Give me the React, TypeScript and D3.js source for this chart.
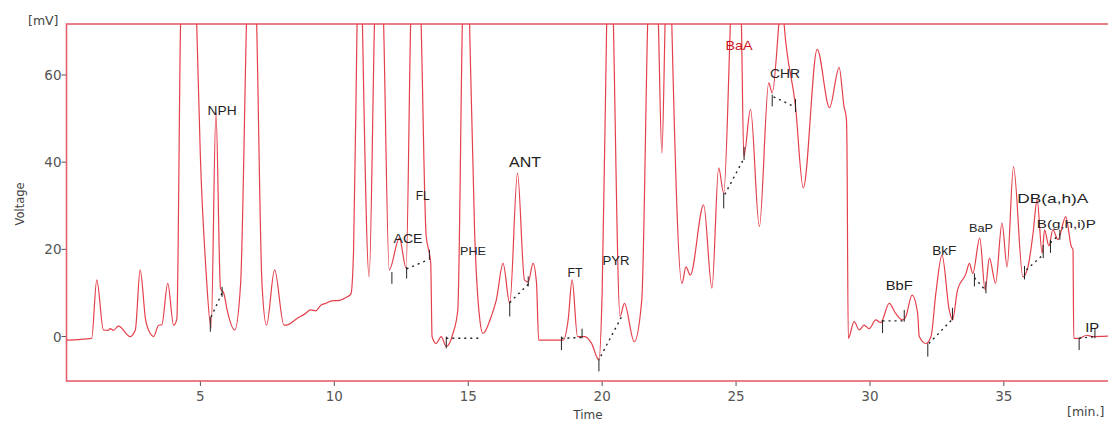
import * as d3 from "d3";

const W = 1108;
const H = 423;
const FRAME = { left: 66.5, top: 24, bottom: 381 };

// chromatogram trace: [time (min), voltage (mV)]
const trace: [number, number][] = [
  [0, -0.8], [0.94, -0.4], [1.13, 13.0], [1.38, 1.5], [1.55, 1.4], [1.63, 1.8], [1.75, 1.4],
  [1.94, 2.4], [2.38, 0], [2.57, 1.5], [2.75, 15.3], [2.95, 4], [3.13, 0.7], [3.25, 0],
  [3.44, 2.6], [3.56, 2.7], [3.78, 12.2], [4.0, 2.6], [4.12, 4], [4.26, 72], [4.56, 115],
  [4.86, 72], [5.0, 41], [5.2, 16], [5.4, 2], [5.58, 51.5], [5.75, 11], [5.87, 10],
  [6.0, 6], [6.28, 1.5], [6.5, 12], [6.72, 72], [6.9, 115], [7.1, 72], [7.3, 12],
  [7.47, 2.6], [7.77, 15.3], [8.12, 2.6], [8.3, 2.8], [8.62, 4.2], [8.9, 5.2], [9.12, 6.1],
  [9.3, 5.9], [9.5, 7.2], [9.68, 7.6], [9.9, 8.2], [10.2, 8.3], [10.45, 9.0], [10.62, 9.8],
  [10.72, 20], [10.85, 72], [10.95, 110], [11.05, 72], [11.3, 13.7],
  [11.5, 72], [11.67, 110], [11.84, 72], [12.05, 15.3], [12.43, 22.6], [12.68, 15.7],
  [12.85, 72], [13.05, 110], [13.24, 72], [13.43, 23], [13.55, 19.1], [13.6, 16.8],
  [13.65, 0], [13.8, -1.6], [13.99, 0], [14.18, -2.3], [14.43, 0.7], [14.61, 6.1],
  [14.78, 72], [14.92, 110], [15.05, 72], [15.24, 23.7], [15.42, 4.6], [15.55, 0.7],
  [15.86, 4.6], [16.05, 8.4], [16.3, 16.8], [16.55, 7.6], [16.84, 37.5], [17.1, 13],
  [17.24, 12.5], [17.42, 16.8], [17.55, 12.2], [17.63, -0.8], [18.55, -0.8], [18.73, 3.8],
  [18.88, 13], [19.08, 0], [19.36, 0], [19.6, -1.5], [19.88, -5.4], [20.0, 10], [20.17, 72],
  [20.3, 110], [20.42, 72], [20.67, 4.6], [20.83, 7.6], [21.2, -1.2], [21.48, 8.4],
  [21.7, 72], [21.9, 110], [22.1, 72], [22.23, 42.1], [22.35, 72], [22.47, 110], [22.6, 72],
  [22.98, 12.2], [23.13, 16], [23.29, 14.1], [23.79, 30.2], [24.1, 11.1], [24.35, 38.7],
  [24.54, 32.9], [24.79, 72], [25.0, 110], [25.2, 72], [25.29, 41.3], [25.54, 52.1],
  [25.87, 25.2], [26.22, 58.2], [26.35, 55.9], [26.6, 72], [26.7, 80], [26.79, 72],
  [27.22, 52.8], [27.51, 34.1], [28.03, 65.9], [28.49, 52.5], [28.85, 61.7], [29.03, 52.8],
  [29.12, 50], [29.14, 44.4], [29.19, -0.4], [29.41, 3.4], [29.6, 1.5], [29.78, 2.6],
  [29.97, 1.8], [30.22, 3.8], [30.4, 3.2], [30.72, 7.6], [30.96, 5.3], [31.22, 3.8],
  [31.34, 4.6], [31.57, 9.5], [31.78, 5.3], [31.84, 0], [32.09, -1.6], [32.28, 0],
  [32.46, 9.9], [32.69, 18.7], [32.96, 6.1], [33.08, 3.8], [33.27, 10.7], [33.59, 14.5],
  [33.71, 16.8], [33.84, 14.5], [34.1, 22.6], [34.3, 10.7], [34.46, 18], [34.69, 12.2],
  [34.93, 26], [35.12, 16], [35.36, 39], [35.71, 13.7], [35.9, 16], [36.09, 23.7],
  [36.24, 31.4], [36.43, 19.1], [36.52, 24.5], [36.68, 20.8], [36.83, 24.5], [37.02, 22.2],
  [37.31, 27.5], [37.52, 20.6], [37.58, 20], [37.61, -0.4], [37.8, -0.4], [38.1, 0.3],
  [38.3, 0], [39.0, 0.1],
];

// integration markers: [time, low, high]
const markers: [number, number, number][] = [
  [5.37, 1.1, 4.5], [5.81, 9.1, 11.4],
  [12.15, 12.1, 14.8], [12.7, 13.3, 16.0], [13.55, 17.6, 19.9],
  [14.18, -2.7, 0],
  [16.55, 4.6, 8.0], [17.24, 11.5, 13.8],
  [18.48, -3.1, 0], [19.25, -0.4, 1.8],
  [19.88, -8.0, -5.0],
  [24.54, 29.4, 32.9], [25.3, 40.5, 43.5],
  [26.35, 52.8, 55.5], [27.22, 51.5, 54.5],
  [30.47, 0.8, 3.8], [31.28, 3.4, 6.1],
  [32.16, -4.6, -1.6], [33.08, 3.8, 6.6],
  [33.9, 11.5, 14.5], [34.33, 9.9, 12.6],
  [35.77, 13.1, 16.2], [36.47, 18.0, 21],
  [36.74, 19.2, 22.2], [37.09, 22.2, 24.5],
  [37.81, -3.1, -0.4], [38.4, -0.4, 2.0],
];

// dotted baselines: [t1, v1, t2, v2]
const baselines: [number, number, number, number][] = [
  [5.4, 4.5, 5.81, 10], [12.7, 15.5, 13.5, 17.6], [14.18, -0.4, 15.5, -0.4],
  [16.55, 7.8, 17.24, 12], [18.48, -0.4, 19.25, -0.2], [19.95, -4.5, 20.73, 4.6],
  [24.58, 32.6, 25.29, 40.8], [26.4, 55.0, 27.22, 52.6], [30.47, 3.6, 31.28, 3.6],
  [32.2, -1.6, 33.08, 4.0], [33.9, 13.5, 34.33, 10.5], [35.84, 15.3, 36.47, 18.8],
  [36.74, 21.5, 37.09, 23.5], [37.81, -0.4, 38.4, 0],
];

const peakNames = ["NPH", "FL", "ACE", "PHE", "ANT", "FT", "PYR", "BaA", "CHR", "BbF", "BkF", "BaP", "DB(a,h)A", "B(g,h,i)P", "IP"];
const peakTimes = [5.81, 13.3, 12.75, 15.18, 17.12, 18.99, 20.52, 25.11, 26.83, 31.09, 32.77, 34.15, 36.83, 37.33, 38.3];
const peakLevels = [50.8, 31.3, 21.4, 18.7, 38.9, 13.6, 16.4, 65.7, 59.3, 10.7, 18.7, 24, 30.6, 24.9, 1.0];

// label styling (px): font size and drawn width
const labelSize: Record<string, number> = { ANT: 14, "DB(a,h)A": 13, "B(g,h,i)P": 11, BaP: 11, PHE: 11.5 };
const labelWidth: Record<string, number> = {
  NPH: 29, FL: 14, ACE: 29, PHE: 26, ANT: 32, FT: 15, PYR: 27, BaA: 27, CHR: 30,
  BbF: 27, BkF: 24, BaP: 24, "DB(a,h)A": 71, "B(g,h,i)P": 59, IP: 14,
};

const xTicks = [5, 10, 15, 20, 25, 30, 35];
const yTicks = [0, 20, 40, 60];

const x = d3.scaleLinear().domain([0, 39]).range([FRAME.left, 1111]);
const y = d3.scaleLinear().domain([-10.2, 71.7]).range([FRAME.bottom, FRAME.top]);

const App = () => {
  const line = d3
    .line<[number, number]>()
    .x((d) => x(d[0]))
    .y((d) => y(d[1]))
    .curve(d3.curveMonotoneX);

  return (
    <svg
      width={W}
      height={H}
      style={{ position: "absolute", left: 0, top: 0, background: "#fff" }}
      fontFamily="Liberation Sans, Arial, sans-serif"
    >
      <defs>
        <clipPath id="plot-clip">
          <rect x={FRAME.left} y={FRAME.top} width={W - FRAME.left} height={FRAME.bottom - FRAME.top} />
        </clipPath>
      </defs>

      {/* axis ticks */}
      {yTicks.map((t) => (
        <g key={"y" + t}>
          <line x1={FRAME.left - 5} x2={FRAME.left} y1={y(t)} y2={y(t)} stroke="#555" strokeWidth={1} />
          <text x={FRAME.left - 5} y={y(t) + 5} textAnchor="end" fontSize={13.5} fill="#555" fontFamily="DejaVu Sans, sans-serif">
            {t}
          </text>
        </g>
      ))}
      {xTicks.map((t) => (
        <g key={"x" + t}>
          <line x1={x(t)} x2={x(t)} y1={FRAME.bottom} y2={FRAME.bottom + 5} stroke="#555" strokeWidth={1} />
          <text x={x(t)} y={FRAME.bottom + 20} textAnchor="middle" fontSize={13.5} fill="#555" fontFamily="DejaVu Sans, sans-serif">
            {t}
          </text>
        </g>
      ))}

      <text x={28} y={25} fontSize={12.5} fill="#444" fontFamily="DejaVu Sans, sans-serif">[mV]</text>
      <text transform="translate(24,204) rotate(-90)" textAnchor="middle" fontSize={11.5} fill="#444" fontFamily="DejaVu Sans, sans-serif">
        Voltage
      </text>
      <text x={588} y={419} textAnchor="middle" fontSize={12} fill="#444" fontFamily="DejaVu Sans, sans-serif">Time</text>
      <text x={1067} y={416} fontSize={12.5} fill="#444" fontFamily="DejaVu Sans, sans-serif">[min.]</text>

      {/* frame */}
      <rect
        x={FRAME.left}
        y={FRAME.top}
        width={W - FRAME.left + 5}
        height={FRAME.bottom - FRAME.top}
        fill="none"
        stroke="#e5606c"
        strokeWidth={1.6}
      />

      <g clipPath="url(#plot-clip)">
        <path d={line(trace) ?? ""} fill="none" stroke="#e4404c" strokeWidth={1.2} strokeLinejoin="round" />
        {baselines.map((b, i) => (
          <line
            key={"b" + i}
            x1={x(b[0])}
            y1={y(b[1])}
            x2={x(b[2])}
            y2={y(b[3])}
            stroke="#222"
            strokeWidth={1.4}
            strokeDasharray="2 4"
          />
        ))}
        {markers.map((m, i) => (
          <line key={"m" + i} x1={x(m[0])} x2={x(m[0])} y1={y(m[1])} y2={y(m[2])} stroke="#222" strokeWidth={1} />
        ))}
      </g>

      {peakNames.map((name, i) => (
        <text
          key={name}
          x={x(peakTimes[i]) - labelWidth[name] / 2}
          y={y(peakLevels[i])}
          fontSize={labelSize[name] ?? 12.5}
          fill={name === "BaA" ? "#cc1020" : "#222"}
          textLength={labelWidth[name]}
          lengthAdjust="spacingAndGlyphs"
        >
          {name}
        </text>
      ))}
    </svg>
  );
};

export default App;
